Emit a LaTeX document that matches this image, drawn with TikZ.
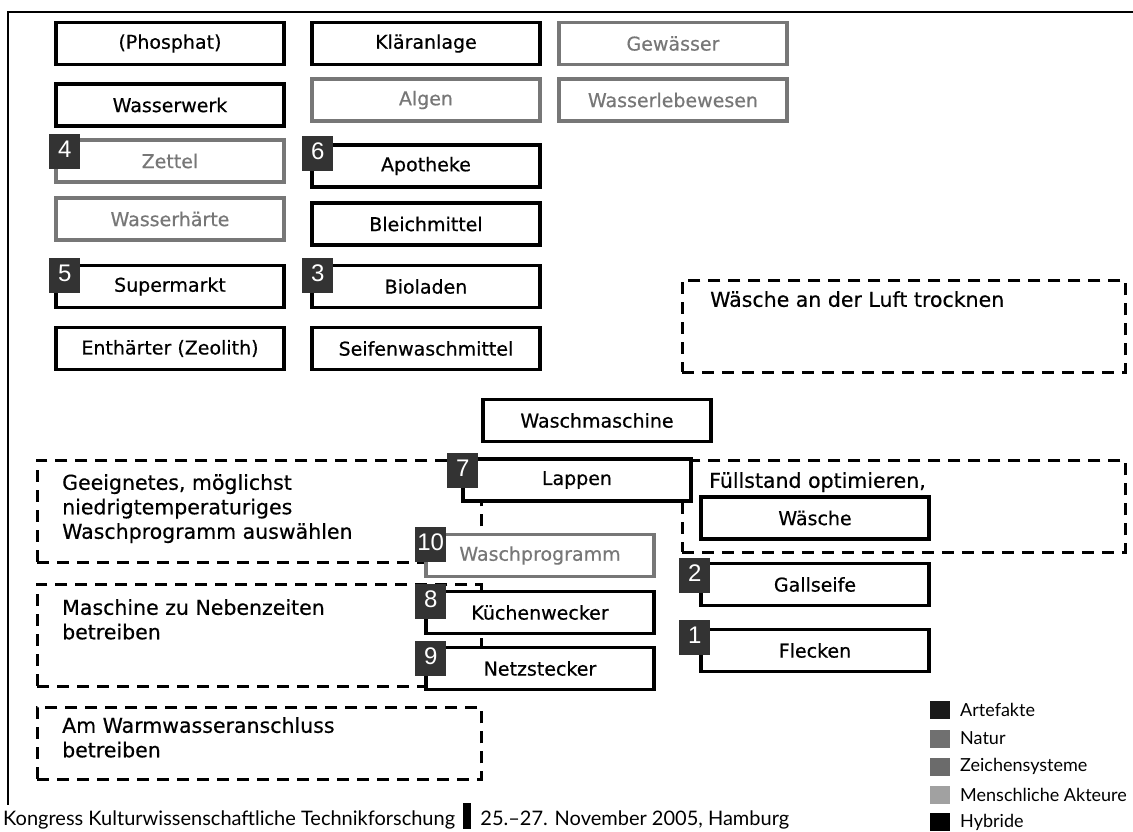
\documentclass[tikz,border=0pt]{standalone}
\usepackage{fontspec}
\setmainfont{DejaVu Sans}
\newfontfamily\boxfont{DejaVu Sans}[FakeBold=0.5]
\newfontfamily\footfont{Lato}
\newfontfamily\numfont{Liberation Sans}
\usetikzlibrary{positioning}
\definecolor{natgray}{HTML}{777777}
\definecolor{badgegray}{HTML}{333333}
\tikzset{
      thing/.style={draw=black, fill=white, line width=3.5, minimum width=228, minimum height=42,
            inner sep=0, font=\boxfont\fontsize{19}{23}\selectfont},
      nature/.style={thing, draw=natgray, text=natgray},
      badge/.style={fill=badgegray, text=white, minimum width=31, minimum height=35, inner sep=0,
            text height=17, text depth=6, font=\numfont\fontsize{24}{28}\selectfont, anchor=north west},
      advice/.style={draw=black, line width=2.5, dash pattern=on 12pt off 8pt, inner sep=0, anchor=north west},
      advicetext/.style={align=left, inner sep=0, anchor=north west, font=\boxfont\fontsize{20.5}{24.5}\selectfont},
      legbox/.style={minimum width=20, minimum height=18, inner sep=0},
      legtext/.style={anchor=west, inner sep=0, font=\footfont\fontsize{18}{21}\selectfont},
      footer/.style={anchor=base west, inner sep=0, font=\footfont\fontsize{20}{24}\selectfont},
      footbar/.style={fill=black, minimum width=8, minimum height=26, inner sep=0, anchor=south west},
}
\begin{document}
\begin{tikzpicture}[x=1pt, y=-1pt]
        \useasboundingbox (0,0) rectangle (1133,832);

        % Frame
        \draw[line width=2.5] (1133,12) -- (8,12) -- (8,805);

        % Dashed advice boxes
        \node[advice, minimum width=443, minimum height=92] (luft) at (681,279) {};
        \node[advicetext] (lufttext) at (710,291) {Wäsche an der Luft trocknen};
        \node[advice, minimum width=444, minimum height=102] (wahl) at (36,459) {};
        \node[advicetext] (wahltext) at (62,474) {Geeignetes, möglichst\\niedrigtemperaturiges\\Waschprogramm auswählen};
        \node[advice, minimum width=444, minimum height=102] (neben) at (36,583) {};
        \node[advicetext] (nebentext) at (62,599) {Maschine zu Nebenzeiten\\betreiben};
        \node[advice, minimum width=443, minimum height=92] (fuell) at (681,459) {};
        \node[advicetext] (fuelltext) at (709,472) {Füllstand optimieren,};
        \node[advice, minimum width=444, minimum height=72] (warm) at (36,706) {};
        \node[advicetext] (warmtext) at (62,717) {Am Warmwasseranschluss\\betreiben};

        % Actors
        \node[thing] (phosphat) at (170,43.5) {(Phosphat)};
        \node[thing] (klaer) at (426,43.5) {Kläranlage};
        \node[nature] (gewaesser) at (673,43.5) {Gewässer};
        \node[thing] (wasserwerk) at (170,105) {Wasserwerk};
        \node[nature] (algen) at (426,100) {Algen};
        \node[nature] (lebewesen) at (673,100) {Wasserlebewesen};
        \node[nature] (zettel) at (170,161) {Zettel};
        \node[thing] (apotheke) at (426,166) {Apotheke};
        \node[nature] (haerte) at (170,219) {Wasserhärte};
        \node[thing] (bleich) at (426,224) {Bleichmittel};
        \node[thing] (supermarkt) at (170,286.5) {Supermarkt};
        \node[thing] (bioladen) at (426,286.5) {Bioladen};
        \node[thing] (enthaerter) at (170,348.5) {Enthärter (Zeolith)};
        \node[thing] (seife) at (426,348.5) {Seifenwaschmittel};
        \node[thing] (maschine) at (597,420.5) {Waschmaschine};
        \node[thing] (lappen) at (577,480) {Lappen};
        \node[nature] (programm) at (540,555.5) {Waschprogramm};
        \node[thing] (wecker) at (540,612.5) {Küchenwecker};
        \node[thing] (netz) at (540,668.5) {Netzstecker};
        \node[thing] (waesche) at (815,518) {Wäsche};
        \node[thing] (gallseife) at (815,584.5) {Gallseife};
        \node[thing] (flecken) at (815,650.5) {Flecken};

        % Numbers
        \node[badge] (n4) at (49,134) {4};
        \node[badge] (n6) at (302,136) {6};
        \node[badge] (n5) at (49,258) {5};
        \node[badge] (n3) at (302,258) {3};
        \node[badge] (n7) at (447,453) {7};
        \node[badge] (n10) at (415,527) {10};
        \node[badge] (n8) at (415,584) {8};
        \node[badge] (n9) at (415,641) {9};
        \node[badge] (n2) at (679,558) {2};
        \node[badge] (n1) at (679,620) {1};

        % Legend
        \node[legbox, fill=black!90] (lart) at (940,710) {};
        \node[legtext] at (960,710) {Artefakte};
        \node[legbox, fill=black!56] (lnat) at (940,738.5) {};
        \node[legtext] at (960,738.5) {Natur};
        \node[legbox, fill=black!58] (lzei) at (940,766.5) {};
        \node[legtext] at (960,766.5) {Zeichensysteme};
        \node[legbox, fill=black!37] (lmen) at (940,795) {};
        \node[legtext] at (960,795) {Menschliche Akteure};
        \node[legbox, fill=black] (lhyb) at (940,822) {};
        \node[legtext] at (960,822) {Hybride};

        % Footer
        \node[footer] (kongress) at (3,825) {Kongress Kulturwissenschaftliche Technikforschung};
        \path (kongress.base east) ++(8,4) node[footbar] (bar) {}
              ++(17,-4) node[footer] (datum) {25.–27. November 2005, Hamburg};

    \end{tikzpicture}
\end{document}
